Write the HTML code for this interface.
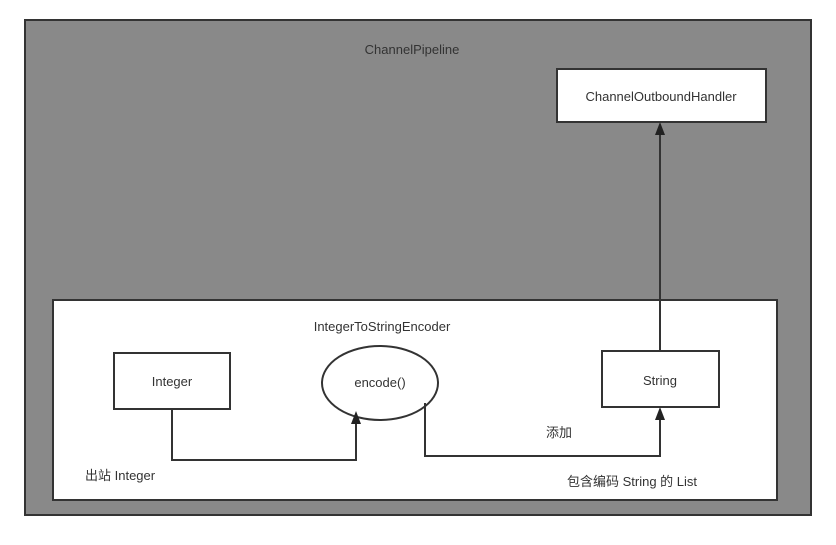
<!DOCTYPE html>
<html><head><style>body{margin:0;background:#fff}</style></head><body>
<svg width="836" height="540" xmlns="http://www.w3.org/2000/svg" font-family="Liberation Sans, Noto Sans CJK SC, sans-serif" font-size="13" fill="#333">
<defs><marker id="a" markerWidth="10" markerHeight="12" refX="5" refY="12" orient="auto-start-reverse" markerUnits="userSpaceOnUse"><path d="M0,12 L5,0 L10,12 Z" fill="#222" transform="rotate(0)"/></marker></defs>
<rect x="25" y="20" width="786" height="495" fill="#898989" stroke="#333" stroke-width="2"/>
<text x="412" y="54" text-anchor="middle">ChannelPipeline</text>
<rect x="557" y="69" width="209" height="53" fill="#fff" stroke="#333" stroke-width="2"/>
<text x="661" y="101" text-anchor="middle">ChannelOutboundHandler</text>
<rect x="53" y="300" width="724" height="200" fill="#fff" stroke="#333" stroke-width="2"/>
<text x="382" y="331" text-anchor="middle">IntegerToStringEncoder</text>
<rect x="114" y="353" width="116" height="56" fill="#fff" stroke="#333" stroke-width="2"/>
<text x="172" y="386" text-anchor="middle">Integer</text>
<ellipse cx="380" cy="383" rx="58" ry="37" fill="#fff" stroke="#333" stroke-width="2"/>
<text x="380" y="387" text-anchor="middle">encode()</text>
<rect x="602" y="351" width="117" height="56" fill="#fff" stroke="#333" stroke-width="2"/>
<text x="660" y="385" text-anchor="middle">String</text>
<g fill="none" stroke="#333" stroke-width="2">
<polyline points="172,409 172,460 356,460 356,423"/>
<polyline points="425,403 425,456 660,456 660,419"/>
<line x1="660" y1="351" x2="660" y2="134"/>
</g>
<g fill="#222">
<path d="M351,424 L356,411 L361,424 Z"/>
<path d="M655,420 L660,407 L665,420 Z"/>
<path d="M655,135 L660,122 L665,135 Z"/>
</g>
<text x="85" y="480">出站 Integer</text>
<text x="546" y="437">添加</text>
<text x="567" y="486">包含编码 String 的 List</text>
</svg>
</body></html>
